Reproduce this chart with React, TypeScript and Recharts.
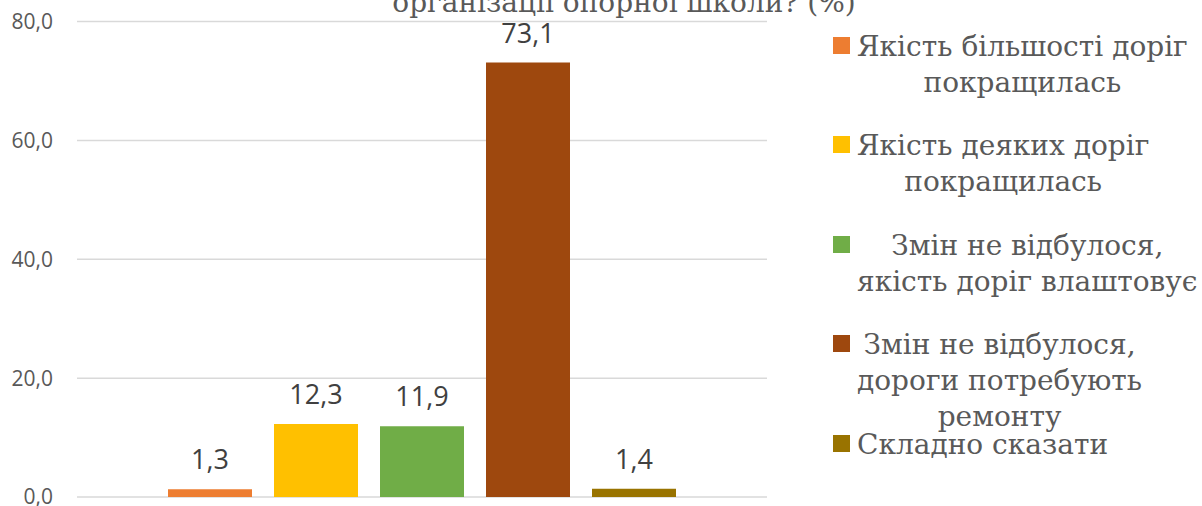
import { Bar, BarChart, CartesianGrid, LabelList, XAxis, YAxis } from "recharts";

const SERIES_KEYS = ["better_most", "better_some", "ok_no_change", "repair_no_change", "hard_to_say"];

const SERIES_NAMES = [
  "Якість більшості доріг покращилась",
  "Якість деяких доріг покращилась",
  "Змін не відбулося, якість доріг влаштовує",
  "Змін не відбулося, дороги потребують ремонту",
  "Складно сказати",
];

// legend wraps like the original slide
const LEGEND_LINES = [
  ["Якість більшості доріг", "покращилась"],
  ["Якість деяких доріг", "покращилась"],
  ["Змін не відбулося,", "якість доріг влаштовує"],
  ["Змін не відбулося,", "дороги потребують", "ремонту"],
  ["Складно сказати"],
];

const VALUES = [1.3, 12.3, 11.9, 73.1, 1.4];

const COLORS = ["#ed7d31", "#ffc000", "#70ad47", "#9e480e", "#997300"];

const Y_TICKS = [0, 20, 40, 60, 80];

const TITLE_TAIL = "організації опорної школи? (%)";

const chartRow = Object.assign(
  { name: "" },
  ...SERIES_KEYS.map((key, i) => ({ [key]: VALUES[i] })),
);

function formatComma(value: number) {
  return Number(value).toFixed(1).replace(".", ",");
}

const SERIF = '"DejaVu Serif", Georgia, serif';
const SANS = '"Open Sans", "Noto Sans", sans-serif';

export default function App() {
  return (
    <div style={{ position: "relative", width: 1202, height: 506, overflow: "hidden", background: "#fff" }}>
      <style>{`body { margin: 0; }`}</style>
      <div
        style={{
          position: "absolute",
          top: -12,
          left: 0,
          width: 1248,
          textAlign: "center",
          fontFamily: SERIF,
          fontSize: 28,
          lineHeight: "29px",
          color: "#595959",
          whiteSpace: "nowrap",
        }}
      >
        {TITLE_TAIL}
      </div>
      <BarChart
        width={1202}
        height={506}
        data={[chartRow]}
        margin={{ top: 21.5, right: 435, left: 0, bottom: 9 }}
        barSize={84}
        barGap={22}
      >
        <CartesianGrid vertical={false} stroke="#d9d9d9" strokeWidth={1.5} />
        <XAxis dataKey="name" hide />
        <YAxis
          width={77}
          domain={[0, 80]}
          ticks={Y_TICKS}
          interval={0}
          tickFormatter={formatComma}
          axisLine={false}
          tickLine={false}
          tickMargin={18}
          tick={{ fill: "#595959", fontSize: 21, fontFamily: SANS }}
        />
        {SERIES_KEYS.map((key, i) => (
          <Bar key={key} dataKey={key} name={SERIES_NAMES[i]} fill={COLORS[i]} isAnimationActive={false}>
            <LabelList
              dataKey={key}
              position="top"
              offset={20}
              formatter={formatComma}
              fill="#404040"
              fontSize={27}
              fontFamily={SANS}
            />
          </Bar>
        ))}
      </BarChart>
      {SERIES_KEYS.map((key, i) => (
        <div
          key={key}
          style={{
            position: "absolute",
            left: 833,
            top: 28.8 + i * 99.5,
            display: "flex",
            alignItems: "flex-start",
            whiteSpace: "nowrap",
          }}
        >
          <span
            style={{
              display: "inline-block",
              width: 17,
              height: 17,
              marginTop: 8.2,
              marginRight: 7,
              background: COLORS[i],
              flex: "none",
            }}
          />
          <span
            style={{
              display: "inline-block",
              textAlign: "center",
              fontFamily: SERIF,
              fontSize: 28,
              lineHeight: "36px",
              color: "#595959",
            }}
          >
            {LEGEND_LINES[i].map((line) => (
              <div key={line}>{line}</div>
            ))}
          </span>
        </div>
      ))}
    </div>
  );
}
